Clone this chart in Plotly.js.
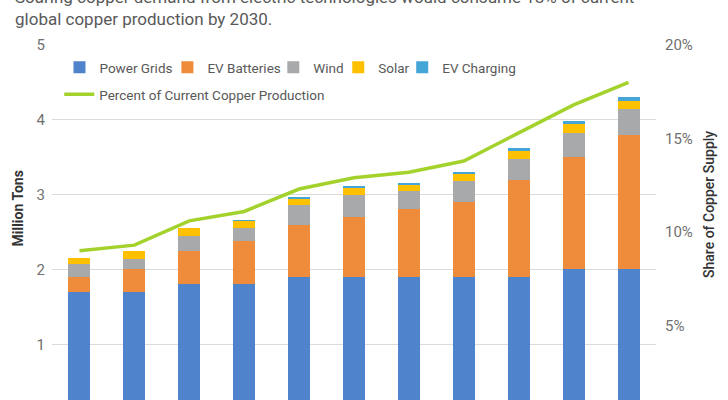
<!DOCTYPE html>
<html>
<head>
<meta charset="utf-8">
<script src="https://cdn.plot.ly/plotly-3.0.1.min.js"></script>
<style>
  html, body { margin: 0; padding: 0; background: #fff; }
  #chart { width: 728px; height: 400px; }
</style>
</head>
<body>
<div id="chart"></div>
<script>
// ---- data ----
const years = ['2020','2021','2022','2023','2024','2025','2026','2027','2028','2029','2030'];
const powerGrids  = [1.70, 1.70, 1.80, 1.80, 1.90, 1.90, 1.90, 1.90, 1.90, 2.00, 2.00];
const evBatteries = [0.20, 0.30, 0.45, 0.58, 0.70, 0.80, 0.91, 1.00, 1.30, 1.50, 1.80];
const wind        = [0.17, 0.14, 0.20, 0.18, 0.26, 0.29, 0.24, 0.28, 0.28, 0.33, 0.34];
const solar       = [0.08, 0.10, 0.10, 0.09, 0.08, 0.10, 0.08, 0.09, 0.10, 0.11, 0.11];
const evCharging  = [0.00, 0.00, 0.01, 0.01, 0.03, 0.02, 0.03, 0.03, 0.04, 0.05, 0.05];
const pctCopper   = [9.0, 9.3, 10.6, 11.1, 12.3, 12.9, 13.2, 13.8, 15.3, 16.8, 18.0];
const leftTicks   = [1, 2, 3, 4, 5];
const rightTicks  = [5, 10, 15, 20];
const rightLabels = ['5%', '10%', '15%', '20%'];
const titleLines  = ['Soaring copper demand from electric technologies would consume 18% of current',
                     'global copper production by 2030.'];

const FONT = 'Roboto, "Open Sans", sans-serif';
const PW = 604.5, PH = 355, ML = 51.5, MT = 45;
const px2x = p => (p - ML) / PW;
const px2y = p => (400 - p) / PH;

function barTrace(name, vals, color, lg) {
  return { type: 'bar', name: name, x: years, y: vals,
           marker: { color: color, line: { width: 0 } },
           legend: lg, hoverinfo: 'skip' };
}

const traces = [
  barTrace('Power Grids', powerGrids, '#4F83CC', 'legend'),
  barTrace('EV Batteries', evBatteries, '#EE8C3C', 'legend2'),
  barTrace('Wind', wind, '#A8A9AA', 'legend3'),
  barTrace('Solar', solar, '#FFC000', 'legend4'),
  barTrace('EV Charging', evCharging, '#45A5D6', 'legend5'),
  { type: 'scatter', mode: 'lines', name: 'Percent of Current Copper Production',
    x: years, y: pctCopper, yaxis: 'y2', legend: 'legend6',
    line: { color: '#A4D22C', width: 3.5 }, hoverinfo: 'skip' }
];

function lg(leftPx, topPx) {
  return { orientation: 'h', x: px2x(leftPx), xanchor: 'left', y: px2y(topPx), yanchor: 'top',
           bgcolor: 'rgba(0,0,0,0)', borderwidth: 0, itemwidth: 30,
           font: { family: FONT, size: 13.5, color: '#595959' } };
}

const layout = {
  width: 728, height: 400,
  margin: { l: ML, r: 72, t: MT, b: 0, pad: 0 },
  paper_bgcolor: '#ffffff', plot_bgcolor: '#ffffff',
  font: { family: FONT, color: '#666666' },
  barmode: 'stack', bargap: 0.6,
  showlegend: true,
  xaxis: { type: 'category', showticklabels: false, showgrid: false, zeroline: false,
           showline: false, ticks: '' },
  yaxis: { range: [0.255, 5], tickmode: 'array', tickvals: leftTicks, showgrid: true,
           gridcolor: '#DADADA', gridwidth: 1, zeroline: false, showline: false, ticks: '',
           tickfont: { family: FONT, size: 15, color: '#707070' }, ticklabelstandoff: 6 },
  yaxis2: { overlaying: 'y', side: 'right', range: [1.02, 20], tickmode: 'array',
            tickvals: rightTicks, ticktext: rightLabels,
            showgrid: false, zeroline: false, showline: false, ticks: '',
            tickfont: { family: FONT, size: 15, color: '#707070' }, ticklabelstandoff: 8 },
  legend:  lg(59, 52),
  legend2: lg(167, 52),
  legend3: lg(273, 52),
  legend4: lg(338, 52),
  legend5: lg(402, 52),
  legend6: lg(58.75, 79),
  annotations: [
    { xref: 'paper', yref: 'paper', x: px2x(12), y: px2y(31),
      xanchor: 'left', yanchor: 'bottom', align: 'left', showarrow: false,
      text: titleLines.join('<br>'),
      font: { family: FONT, size: 17, color: '#595959' } },
    { xref: 'paper', yref: 'paper', x: px2x(17), y: px2y(209),
      xanchor: 'center', yanchor: 'middle', textangle: -90, showarrow: false,
      text: 'Million Tons',
      font: { family: FONT, size: 14, color: '#333333', weight: 'bold' } },
    { xref: 'paper', yref: 'paper', x: px2x(709), y: px2y(204),
      xanchor: 'center', yanchor: 'middle', textangle: -90, showarrow: false,
      text: 'Share of Copper Supply',
      font: { family: FONT, size: 14, color: '#333333', weight: 500 } }
  ]
};

Plotly.newPlot('chart', traces, layout, { displayModeBar: false, staticPlot: true });
</script>
</body>
</html>
